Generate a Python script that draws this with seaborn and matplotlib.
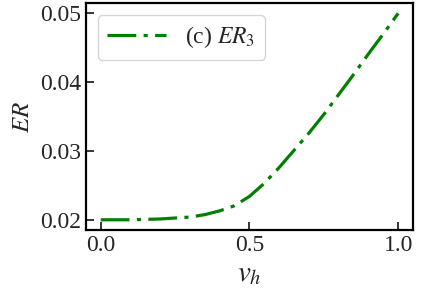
import pandas as pd
import matplotlib.pyplot as plt
import seaborn as sns

# values
v_h = [0.0, 0.1, 0.2, 0.3, 0.35, 0.4, 0.45, 0.5, 0.55, 0.6, 0.65, 0.7, 0.75, 0.8, 0.85, 0.9, 0.95, 1.0]
er3 = [0.0200, 0.0200, 0.02012, 0.02040, 0.02075, 0.02130, 0.02205, 0.0234, 0.0253, 0.0276,
       0.0301, 0.0326, 0.0353, 0.0382, 0.0411, 0.0441, 0.0470, 0.0500]
x_ticks = [0.0, 0.5, 1.0]
y_ticks = [0.02, 0.03, 0.04, 0.05]

df = pd.DataFrame({'v_h': v_h, 'ER': er3})

sns.set_style('ticks')
plt.rcParams['font.family'] = ['Liberation Serif', 'DejaVu Serif']
plt.rcParams['mathtext.fontset'] = 'stix'
plt.rcParams['xtick.direction'] = 'in'
plt.rcParams['ytick.direction'] = 'in'

fig = plt.figure(figsize=(4.21, 3.02), dpi=100)
ax = fig.add_axes([0.204, 0.238, 0.777, 0.752])

# long dash, gap, dot, gap (in units of line width)
dashdot = (0, (9, 2.3, 1.3, 2.3))
sns.lineplot(data=df, x='v_h', y='ER', ax=ax, color='green', linewidth=2.3,
             label='(c) $ER_3$')
line = ax.lines[0]
line.set_linestyle(dashdot)
line.set_dash_capstyle('butt')

ax.set_xticks(x_ticks)
ax.set_yticks(y_ticks)
ax.tick_params(labelsize=17, length=6, width=1.3, top=False, right=False)
for s in ax.spines.values():
    s.set_linewidth(1.6)
    s.set_color('black')

ax.set_xlabel('$v_h$', fontsize=21)
ax.set_ylabel('$ER$', fontsize=18)
leg = ax.legend(loc='upper left', fontsize=17, handlelength=2.5, framealpha=0.8,
                fancybox=True, edgecolor='#cccccc')
leg.get_lines()[0].set_linestyle(dashdot)
leg.get_lines()[0].set_dash_capstyle('butt')

fig.savefig('out.png', dpi=100)
